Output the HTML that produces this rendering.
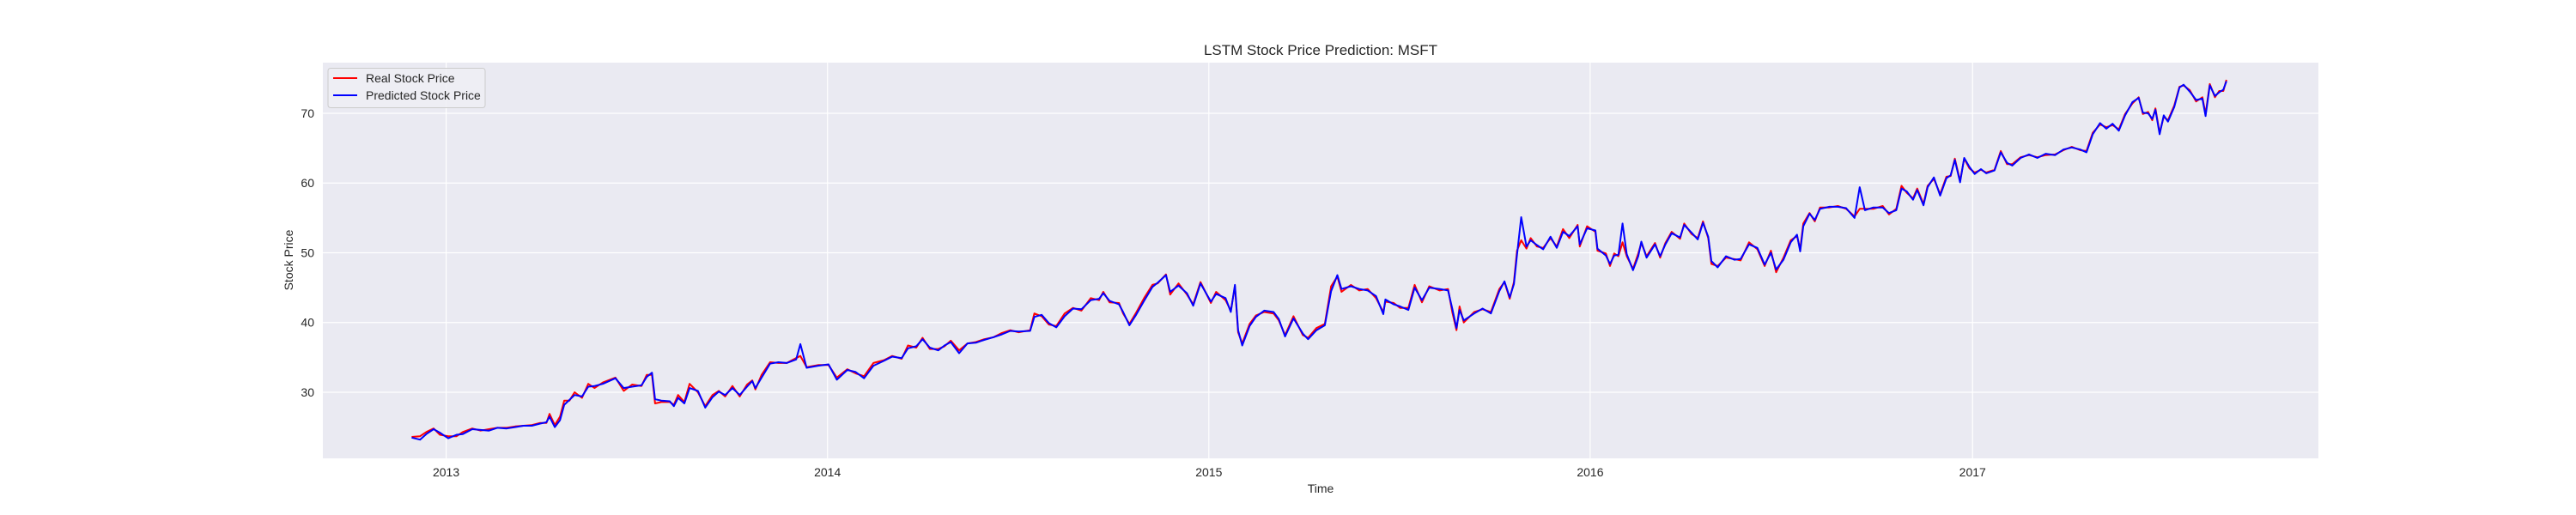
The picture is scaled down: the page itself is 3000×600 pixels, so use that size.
<!DOCTYPE html>
<html><head><meta charset="utf-8"><title>LSTM Stock Price Prediction: MSFT</title>
<style>
html,body{margin:0;padding:0;background:#fff;}
svg{display:block;font-family:"Liberation Sans",Arial,sans-serif;}
</style></head>
<body>
<svg id="chart" width="3000" height="600" viewBox="0 0 3000 600" xmlns="http://www.w3.org/2000/svg">
  <rect x="376" y="73" width="2324" height="461" fill="#EAEAF2"/>
  <g id="grid"></g>
  <g id="ticks"></g>
  <g id="series"></g>
  <text x="1538" y="64" text-anchor="middle" font-size="17" fill="#262626">LSTM Stock Price Prediction: MSFT</text>
  <text x="1538" y="574" text-anchor="middle" font-size="14" fill="#262626">Time</text>
  <text x="0" y="0" transform="translate(341,303) rotate(-90)" text-anchor="middle" font-size="14" fill="#262626">Stock Price</text>
  <g>
    <rect x="382" y="79.5" width="183" height="46" rx="3" fill="#EEEEF4" fill-opacity="0.85" stroke="#CCCCCC"/>
    <line x1="388" y1="91" x2="416" y2="91" stroke="#FF0000" stroke-width="2"/>
    <text x="426" y="96" font-size="14" fill="#262626">Real Stock Price</text>
    <line x1="388" y1="111" x2="416" y2="111" stroke="#0000FF" stroke-width="2"/>
    <text x="426" y="116" font-size="14" fill="#262626">Predicted Stock Price</text>
  </g>
</svg>
<script>
// days since 2013-01-01
const dayOffsets = [-33,-25,-19,-12,-6,2,10,16,25,33,41,49,58,66,74,82,90,96,99,104,109,113,118,123,130,136,142,150,162,170,178,187,192,197,200,206,214,218,222,228,233,241,248,255,261,267,274,281,288,293,296,302,310,318,326,
335,339,345,356,366,374,384,392,400,409,419,427,436,442,450,456,463,471,477,483,491,499,507,515,524,532,540,548,559,563,570,577,584,592,600,608,617,625,629,635,644,648,654,660,668,676,681,
689,693,701,709,715,722,732,737,746,751,755,758,762,769,775,783,792,797,803,811,820,825,833,841,847,853,857,866,874,882,890,897,899,907,913,921,927,934,941,951,959,963,967,970,974,984,992,1000,1008,1013,1018,1022,1025,1029,1034,
1038,1044,1050,1057,1063,1069,1075,1083,1085,1092,1100,1102,1110,1114,1118,1122,1126,1130,1136,1141,1144,1149,1157,1162,1167,1173,1181,1185,1192,1198,1203,1208,1211,1217,1225,1233,1239,1247,1255,1262,1268,1273,1280,1287,1293,1296,1299,1305,1310,1315,1324,1332,1340,1348,1353,1358,1366,1375,1381,1388,
1393,1398,1404,1408,1414,1418,1424,1430,1436,1440,1444,1449,1453,1458,1463,1469,1474,1482,1488,1494,1499,1507,1515,1523,1531,1540,1548,1556,1564,1570,1576,1583,1589,1595,1601,1607,1614,1620,1624,1629,1633,1636,1640,1644,1648,1654,1659,1663,1669,1675,1681,1684,1688,1693,1697,1701,1704];
const realPrice = [23.6,23.7,24.3,24.8,23.9,23.7,23.7,24.3,24.8,24.5,24.7,24.9,24.9,25.1,25.2,25.3,25.6,25.6,26.9,25.3,26.5,28.8,28.8,30.0,29.2,31.2,30.6,31.4,32.1,30.2,31.1,30.9,32.5,32.5,28.4,28.6,28.6,28.2,29.6,28.6,31.2,30.0,28.0,29.6,30.2,29.4,30.9,29.4,31.1,31.7,30.4,32.5,34.3,34.2,34.2,
34.9,35.2,33.6,33.9,33.9,32.1,33.3,32.7,32.3,34.2,34.6,35.2,34.8,36.7,36.4,37.8,36.2,36.2,36.6,37.4,36.0,37.0,37.2,37.6,37.9,38.5,38.9,38.6,38.9,41.3,40.9,39.7,39.5,41.3,42.1,41.7,43.5,43.2,44.4,42.9,42.8,41.3,39.8,41.3,43.5,45.4,45.6,
46.9,44.0,45.6,44.0,42.6,45.8,42.8,44.4,43.2,41.7,45.2,38.6,37.0,39.8,41.0,41.5,41.3,40.3,38.2,40.9,38.2,37.8,39.2,39.8,45.2,46.6,44.4,45.4,44.6,44.8,43.5,41.5,43.0,42.8,42.1,42.1,45.4,42.9,45.2,44.6,44.8,41.5,38.9,42.3,40.0,41.5,41.9,41.5,44.8,45.8,43.4,45.8,50.3,51.8,50.6,
52.1,50.9,50.7,52.1,50.9,53.4,52.1,54.0,50.9,53.8,53.0,50.3,49.9,48.1,49.9,49.5,51.5,49.5,47.7,49.9,51.4,49.5,51.4,49.3,51.4,53.0,52.0,54.2,52.7,52.1,54.5,52.1,48.4,48.1,49.3,49.1,48.9,51.5,50.5,48.1,50.3,47.2,49.3,51.8,52.4,50.5,54.2,55.7,54.5,56.5,56.5,56.7,56.3,55.2,56.3,56.3,56.3,56.7,55.5,56.3,
59.6,58.6,57.8,59.2,57.0,59.6,60.6,58.4,60.9,61.0,63.5,60.3,63.5,62.1,61.5,61.9,61.5,61.9,64.6,62.7,62.7,63.7,64.0,63.7,64.0,64.1,64.7,65.2,64.7,64.6,67.2,68.4,68.0,68.3,67.7,69.9,71.4,72.3,69.9,70.2,69.0,70.7,67.2,69.5,69.0,71.1,73.8,74.0,73.3,71.7,72.3,69.9,74.2,72.3,73.2,73.2,74.8];
const predictedPrice = [23.5,23.2,24.0,24.7,24.2,23.4,23.9,24.0,24.7,24.6,24.5,24.9,24.8,25.0,25.2,25.2,25.5,25.7,26.5,25.0,26.0,28.2,28.9,29.6,29.4,30.8,30.9,31.2,32.0,30.6,30.8,31.0,32.2,32.8,29.0,28.8,28.7,28.0,29.2,28.4,30.6,30.2,27.8,29.3,30.1,29.6,30.6,29.6,30.8,31.6,30.6,32.1,34.1,34.3,34.2,
34.7,36.9,33.5,33.8,34.0,31.8,33.2,32.9,32.0,33.8,34.5,35.1,34.9,36.3,36.6,37.6,36.4,36.0,36.7,37.2,35.6,37.0,37.1,37.5,37.9,38.3,38.8,38.7,38.8,40.8,41.1,39.9,39.3,40.9,42.0,41.9,43.2,43.4,44.2,43.1,42.6,41.5,39.6,41.0,43.1,45.1,45.7,
46.8,44.4,45.3,44.2,42.4,45.6,43.0,44.1,43.5,41.5,45.4,38.9,36.7,39.5,40.8,41.7,41.5,40.5,38.0,40.6,38.4,37.6,38.9,39.6,44.5,46.8,44.8,45.2,44.8,44.6,43.8,41.2,43.3,42.6,42.3,41.8,45.0,43.2,45.0,44.8,44.6,42.0,39.2,41.8,40.3,41.3,42.0,41.3,44.5,45.9,43.6,45.5,49.7,55.1,50.9,
51.8,51.1,50.5,52.3,50.7,53.0,52.4,53.8,51.2,53.5,53.2,50.6,49.6,48.4,49.6,49.7,54.2,49.8,47.5,49.5,51.6,49.3,51.2,49.5,51.2,52.8,52.2,54.0,52.9,51.9,54.3,52.3,48.8,47.9,49.5,49.0,49.1,51.2,50.7,48.3,50.0,47.6,49.0,51.5,52.6,50.2,53.8,55.6,54.7,56.3,56.6,56.6,56.4,55.0,59.4,56.1,56.5,56.5,55.7,56.1,
59.2,58.8,57.6,59.0,56.8,59.4,60.8,58.2,60.7,61.1,63.3,60.1,63.6,62.3,61.3,62.0,61.4,61.8,64.4,62.9,62.5,63.6,64.1,63.6,64.2,64.0,64.8,65.1,64.8,64.4,67.0,68.6,67.8,68.5,67.5,69.7,71.6,72.2,70.1,70.0,69.2,70.5,67.0,69.7,68.8,70.9,73.7,74.1,73.1,71.9,72.1,69.6,74.0,72.5,73.0,73.4,74.6];
const yTicks = [30,40,50,60,70];
const yearTicks = ["2013","2014","2015","2016","2017"];

const NS = "http://www.w3.org/2000/svg";
const plotL = 376, plotR = 2700, plotT = 73, plotB = 534;
const dayMin = -118, dayMax = 1792, yMin = 20.52, yMax = 77.26;
function xScale(d){ return plotL + (d - dayMin) / (dayMax - dayMin) * (plotR - plotL); }
function yScale(v){ return plotB - (v - yMin) / (yMax - yMin) * (plotB - plotT); }
function yearDay(y){ return Math.round((Date.UTC(+y,0,1) - Date.UTC(2013,0,1)) / 86400000); }

const grid = document.getElementById('grid');
const ticks = document.getElementById('ticks');
yTicks.forEach(function(t){
  const y = yScale(t);
  const ln = document.createElementNS(NS,'line');
  ln.setAttribute('x1', plotL); ln.setAttribute('x2', plotR);
  ln.setAttribute('y1', y); ln.setAttribute('y2', y);
  ln.setAttribute('stroke', '#FFFFFF'); ln.setAttribute('stroke-width', '1.2');
  
  
  grid.appendChild(ln);
  const tx = document.createElementNS(NS,'text');
  tx.setAttribute('x', 366); tx.setAttribute('y', y + 5);
  tx.setAttribute('text-anchor', 'end'); tx.setAttribute('font-size', '14'); tx.setAttribute('fill', '#262626');
  tx.textContent = t;
  
  
  ticks.appendChild(tx);
});
yearTicks.forEach(function(yr){
  const x = xScale(yearDay(yr));
  const ln = document.createElementNS(NS,'line');
  ln.setAttribute('x1', x); ln.setAttribute('x2', x);
  ln.setAttribute('y1', plotT); ln.setAttribute('y2', plotB);
  ln.setAttribute('stroke', '#FFFFFF'); ln.setAttribute('stroke-width', '1.2');
  
  
  grid.appendChild(ln);
  const tx = document.createElementNS(NS,'text');
  tx.setAttribute('x', x); tx.setAttribute('y', 555);
  tx.setAttribute('text-anchor', 'middle'); tx.setAttribute('font-size', '14'); tx.setAttribute('fill', '#262626');
  tx.textContent = yr;
  
  
  ticks.appendChild(tx);
});

const series = document.getElementById('series');
function drawLine(vals, color, name){
  const pts = vals.map(function(v,i){ return xScale(dayOffsets[i]).toFixed(1) + ',' + yScale(v).toFixed(1); }).join(' ');
  const pl = document.createElementNS(NS,'polyline');
  pl.setAttribute('points', pts);
  pl.setAttribute('fill', 'none'); pl.setAttribute('stroke', color);
  pl.setAttribute('stroke-width', '2'); pl.setAttribute('stroke-linejoin', 'round');
  
  
  series.appendChild(pl);
}
drawLine(realPrice, '#FF0000', 'real-price-line');
drawLine(predictedPrice, '#0000FF', 'predicted-price-line');
</script>
</body></html>
